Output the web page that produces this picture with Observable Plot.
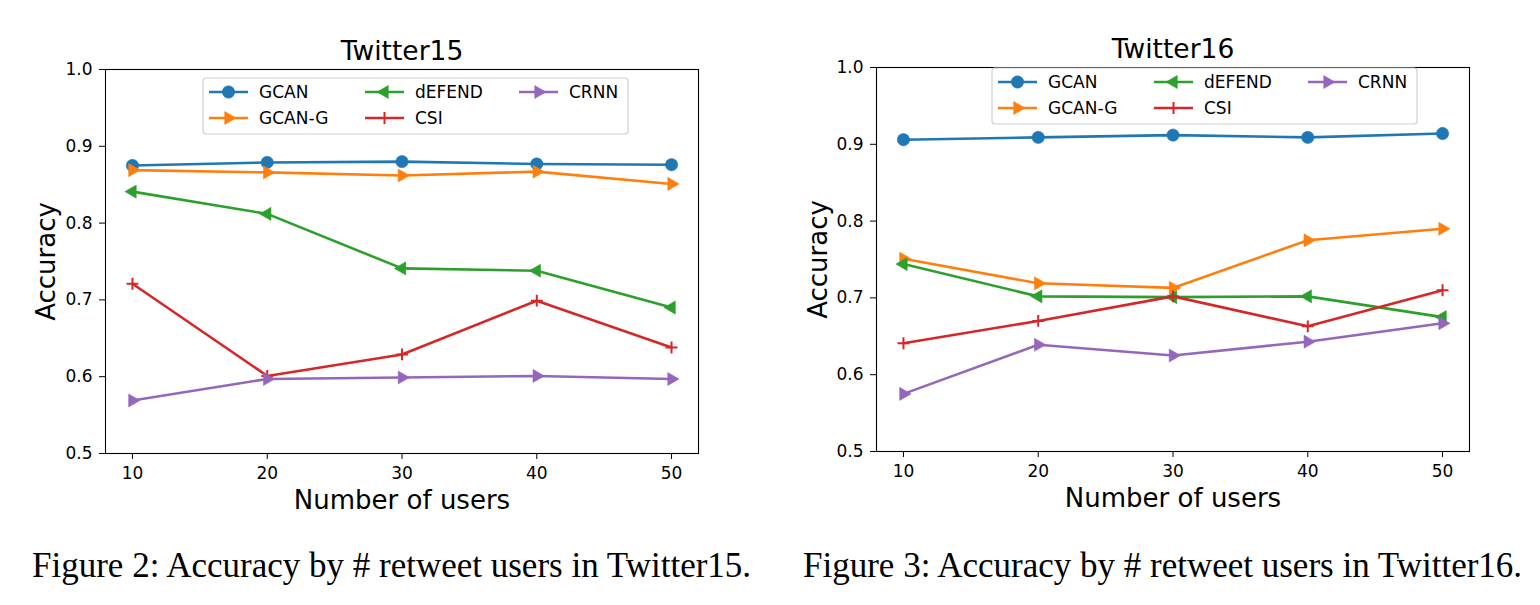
<!DOCTYPE html>
<html>
<head>
<meta charset="utf-8">
<script src="https://cdn.jsdelivr.net/npm/d3@7"></script>
<script src="https://cdn.jsdelivr.net/npm/@observablehq/plot@0.6"></script>
<style>
  html, body { margin: 0; padding: 0; background: #fff; }
  #page { position: relative; width: 1540px; height: 605px; background: #fff; overflow: hidden; }
  .chart { position: absolute; top: 0; }
  .chart svg { font-family: "DejaVu Sans", sans-serif; color: #000; }
  .caption { position: absolute; font-family: "Liberation Serif", "Times New Roman", serif; font-size: 35px; color: #000; white-space: nowrap; line-height: 1; }
</style>
</head>
<body>
<div id="page">
  <div class="chart" id="c1" style="left:0px"></div>
  <div class="chart" id="c2" style="left:771px"></div>
  <div class="caption" style="left:32px; top:548px">Figure 2: Accuracy by # retweet users in Twitter15.</div>
  <div class="caption" style="left:803px; top:548px">Figure 3: Accuracy by # retweet users in Twitter16.</div>
</div>
<script>
// ---- data ----
const users = [10, 20, 30, 40, 50];
const seriesNames = ["GCAN", "GCAN-G", "dEFEND", "CSI", "CRNN"];
const seriesColors = ["#1f77b4", "#ff7f0e", "#2ca02c", "#d62728", "#9467bd"];
const seriesMarkers = ["circle", "triRight", "triLeft", "plus", "triRight"];
const yTicks = [0.5, 0.6, 0.7, 0.8, 0.9, 1.0];
const xTicks = [10, 20, 30, 40, 50];

// Twitter15
const t15_GCAN   = [0.875, 0.879, 0.880, 0.877, 0.876];
const t15_GCANG  = [0.869, 0.866, 0.862, 0.867, 0.851];
const t15_dEFEND = [0.841, 0.812, 0.741, 0.738, 0.690];
const t15_CSI    = [0.721, 0.601, 0.629, 0.699, 0.638];
const t15_CRNN   = [0.569, 0.597, 0.599, 0.601, 0.597];

// Twitter16
const t16_GCAN   = [0.906, 0.909, 0.912, 0.909, 0.914];
const t16_GCANG  = [0.751, 0.719, 0.713, 0.775, 0.790];
const t16_dEFEND = [0.744, 0.702, 0.701, 0.702, 0.675];
const t16_CSI    = [0.641, 0.670, 0.702, 0.663, 0.710];
const t16_CRNN   = [0.575, 0.639, 0.625, 0.643, 0.667];

// ---- custom symbols ----
const triRight = {
  draw(ctx, size) {
    const R = Math.sqrt(size / Math.PI);
    const h = R * Math.sqrt(3) / 2;
    ctx.moveTo(R, 0); ctx.lineTo(-R / 2, h); ctx.lineTo(-R / 2, -h); ctx.closePath();
  }
};
const triLeft = {
  draw(ctx, size) {
    const R = Math.sqrt(size / Math.PI);
    const h = R * Math.sqrt(3) / 2;
    ctx.moveTo(-R, 0); ctx.lineTo(R / 2, h); ctx.lineTo(R / 2, -h); ctx.closePath();
  }
};
const symbolFor = {circle: "circle", triRight, triLeft, plus: "plus"};
const rFor = {circle: 6.2, triRight: 7.6, triLeft: 7.6, plus: 3.9};
const LW = 2.6;

function buildRows(valsList) {
  const rows = [];
  seriesNames.forEach((s, i) => users.forEach((u, j) => rows.push({series: s, users: u, acc: valsList[i][j]})));
  return rows;
}

function makeChart(opts) {
  const rows = buildRows(opts.values);
  const marks = [];
  seriesNames.forEach((s, i) => {
    const d = rows.filter(r => r.series === s);
    const m = seriesMarkers[i];
    marks.push(Plot.line(d, {x: "users", y: "acc", stroke: seriesColors[i], strokeWidth: LW}));
    if (m === "plus") {
      marks.push(Plot.dot(d, {x: "users", y: "acc", symbol: "plus", r: rFor[m], stroke: seriesColors[i], strokeWidth: 2}));
    } else {
      marks.push(Plot.dot(d, {x: "users", y: "acc", symbol: symbolFor[m], r: rFor[m], fill: seriesColors[i], stroke: seriesColors[i], strokeWidth: 0.5}));
    }
  });
  const plot = Plot.plot({
    width: 720,
    height: 530,
    marginLeft: 105,
    marginRight: 22,
    marginTop: opts.marginTop,
    marginBottom: 530 - opts.frameBottom,
    x: {domain: [8, 52], label: null},
    y: {domain: [0.5, 1.0], label: null},
    style: {background: "transparent", color: "#000", fontFamily: "DejaVu Sans, sans-serif"},
    marks: [
      ...marks,
      Plot.frame({stroke: "#000", strokeWidth: 1.1}),
      Plot.axisX({ticks: xTicks, tickFormat: d3.format("d"), tickSize: 6, tickPadding: 7, fontSize: 17, label: null}),
      Plot.axisY({ticks: yTicks, tickFormat: d3.format(".1f"), tickSize: 6, tickPadding: 7, fontSize: 17, label: null}),
      Plot.text([opts.title], {text: d => d, frameAnchor: "top", dy: -18, fontSize: 26.5, lineAnchor: "middle"}),
      Plot.text(["Number of users"], {text: d => d, frameAnchor: "bottom", dy: 47, fontSize: 26, lineAnchor: "middle"}),
      Plot.text(["Accuracy"], {text: d => d, frameAnchor: "left", textAnchor: "middle", dx: opts.ylabDx, rotate: -90, fontSize: 26, lineAnchor: "middle"})
    ]
  });

  // legend (in the plot's svg)
  const svg = d3.select(plot);
  const x0 = 105 + opts.legLeft, y0 = opts.marginTop + opts.legTop;
  const g = svg.append("g").attr("font-family", "DejaVu Sans, sans-serif").attr("font-size", 17).attr("text-anchor", "start");
  g.append("rect").attr("x", x0).attr("y", y0).attr("width", 425).attr("height", 56)
    .attr("rx", 3).attr("fill", "#fff").attr("fill-opacity", 0.8).attr("stroke", "#d0d0d0").attr("stroke-width", 1.2);
  const colX = [6, 162, 316];
  const rowY = [14, 40];
  const order = [[0, 0], [0, 1], [1, 0], [1, 1], [2, 0]];
  seriesNames.forEach((s, i) => {
    const [c, r] = order[i];
    const hx = x0 + colX[c], hy = y0 + rowY[r];
    g.append("line").attr("x1", hx).attr("x2", hx + 39).attr("y1", hy).attr("y2", hy)
      .attr("stroke", seriesColors[i]).attr("stroke-width", LW);
    const m = seriesMarkers[i];
    const cx = hx + 19.5;
    const rr = rFor[m];
    const size = Math.PI * rr * rr;
    let path;
    if (m === "plus") path = d3.symbol(d3.symbolPlus, size)();
    else if (m === "circle") path = d3.symbol(d3.symbolCircle, size)();
    else path = d3.symbol(symbolFor[m], size)();
    g.append("path").attr("d", path).attr("transform", `translate(${cx},${hy})`)
      .attr("fill", m === "plus" ? "none" : seriesColors[i])
      .attr("stroke", seriesColors[i]).attr("stroke-width", m === "plus" ? 2 : 0.5);
    g.append("text").attr("x", x0 + colX[c] + 50).attr("y", hy).attr("dy", "0.35em")
      .attr("text-anchor", "start").attr("fill", "#000").text(s);
  });
  return plot;
}

document.getElementById("c1").appendChild(makeChart({
  title: "Twitter15",
  values: [t15_GCAN, t15_GCANG, t15_dEFEND, t15_CSI, t15_CRNN],
  marginTop: 69, frameBottom: 453, legLeft: 98, legTop: 9, ylabDx: -59
}));
document.getElementById("c2").appendChild(makeChart({
  title: "Twitter16",
  values: [t16_GCAN, t16_GCANG, t16_dEFEND, t16_CSI, t16_CRNN],
  marginTop: 67, frameBottom: 451, legLeft: 116, legTop: 1, ylabDx: -58
}));
</script>
</body>
</html>
